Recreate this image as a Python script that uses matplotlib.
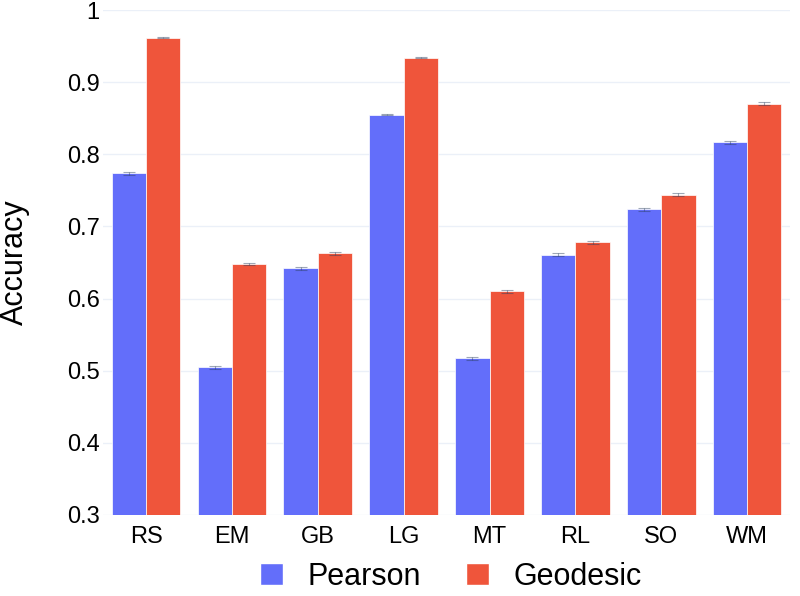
import matplotlib
matplotlib.use("Agg")
import matplotlib.pyplot as plt
import numpy as np
from matplotlib.patches import Patch

plt.rcParams['font.family'] = ['Liberation Sans', 'DejaVu Sans']

categories = ["RS", "EM", "GB", "LG", "MT", "RL", "SO", "WM"]
pearson = [0.774, 0.505, 0.642, 0.855, 0.517, 0.661, 0.724, 0.817]
geodesic = [0.962, 0.648, 0.663, 0.934, 0.610, 0.678, 0.744, 0.870]
pearson_err = [0.002, 0.002, 0.002, 0.001, 0.002, 0.002, 0.002, 0.002]
geodesic_err = [0.001, 0.002, 0.002, 0.001, 0.002, 0.002, 0.002, 0.002]
yticks = [0.3, 0.4, 0.5, 0.6, 0.7, 0.8, 0.9, 1.0]
ytick_labels = ["0.3", "0.4", "0.5", "0.6", "0.7", "0.8", "0.9", "1"]

blue = "#636EFA"
red = "#EF553B"
grid = "#EBF0F8"

fig = plt.figure(figsize=(8, 5.96), dpi=100)
ax = fig.add_axes([0.129, 0.136, 0.8585, 0.847])

x = np.arange(len(categories))
w = 0.4
err_kw = dict(ecolor="#2a3f5f", elinewidth=0.8, capsize=4.5, capthick=0.8, alpha=0.45)
ax.bar(x - w / 2, pearson, w, yerr=pearson_err, color=blue, edgecolor="white",
       linewidth=0.5, error_kw=err_kw, zorder=3)
ax.bar(x + w / 2, geodesic, w, yerr=geodesic_err, color=red, edgecolor="white",
       linewidth=0.5, error_kw=err_kw, zorder=3)

ax.set_xlim(-0.5, len(categories) - 0.5)
ax.set_ylim(0.3, 1.0)
ax.set_yticks(yticks)
ax.set_yticklabels(ytick_labels)
ax.set_xticks(x)
ax.set_xticklabels(categories)
ax.tick_params(axis='y', labelsize=17, length=0, pad=2.5, colors="black")
ax.tick_params(axis='x', labelsize=17, length=0, pad=8, colors="black")
ax.grid(axis='y', color=grid, linewidth=1, zorder=0)
ax.set_axisbelow(True)
for s in ax.spines.values():
    s.set_visible(False)
ax.set_ylabel("Accuracy", fontsize=22)
ax.yaxis.set_label_coords(-0.107, 0.5)

handles = [Patch(facecolor=blue, edgecolor="white", label="Pearson"),
           Patch(facecolor=red, edgecolor="white", label="Geodesic")]
fig.legend(handles=handles, loc="center", bbox_to_anchor=(0.5635, 0.032), ncol=2,
           frameon=False, fontsize=22, handlelength=0.75, handleheight=0.75,
           handletextpad=0.8, columnspacing=1.5)

fig.savefig("out.png", dpi=100)
